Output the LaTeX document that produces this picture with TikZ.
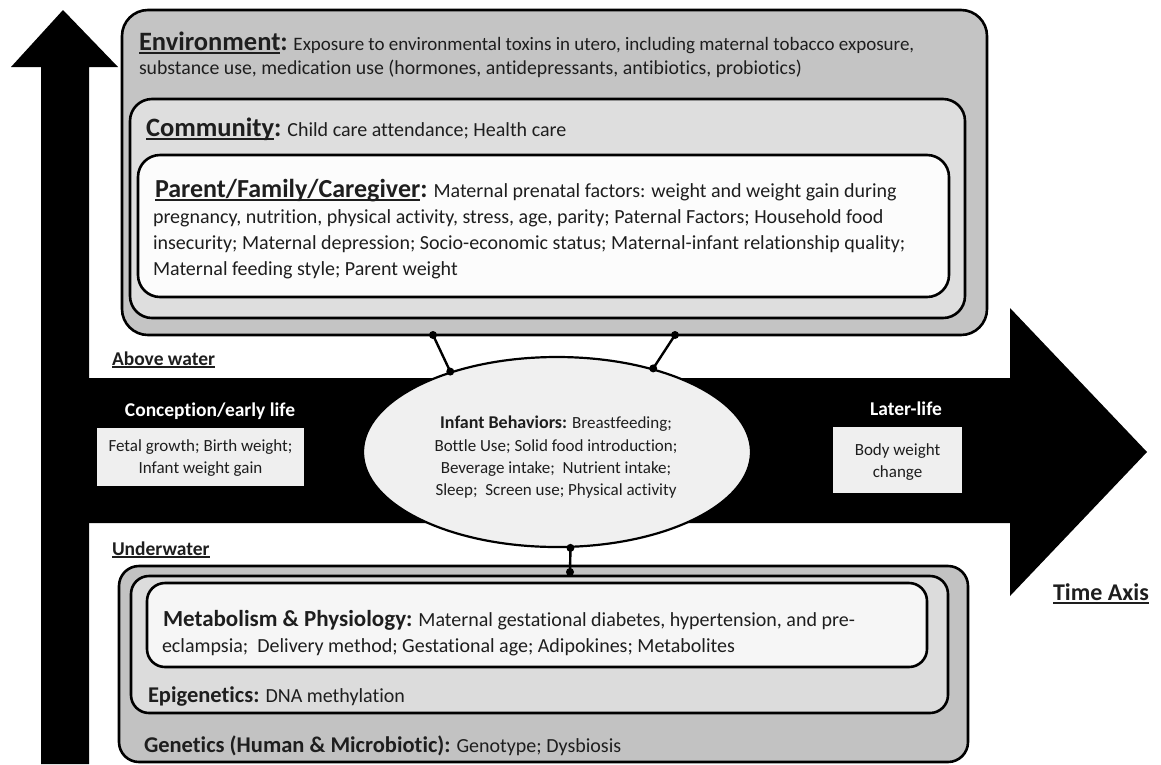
\documentclass[tikz,border=0pt]{standalone}
\usepackage{fontspec}
\setmainfont{Carlito}[Ligatures=NoCommon]
\usetikzlibrary{shapes.geometric}
\definecolor{txtc}{HTML}{1E1E1E}
\definecolor{envfill}{HTML}{C4C4C4}
\definecolor{comfill}{HTML}{DEDEDE}
\definecolor{parfill}{HTML}{FCFCFC}
\definecolor{genfill}{HTML}{C2C2C2}
\definecolor{epifill}{HTML}{DCDCDC}
\definecolor{metfill}{HTML}{F6F6F6}
\definecolor{smallfill}{HTML}{EFEFEF}
\definecolor{ellfill}{HTML}{F0F0F0}
\newcommand\myul[2][4]{\setbox0\hbox{#2}\rlap{\rule[-#1pt]{\wd0}{1.6pt}}\box0}
\newcommand\hbig{\fontsize{26.5}{30}\selectfont\bfseries}
\newcommand\hpar{\fontsize{26}{30}\selectfont\bfseries}
\newcommand\benv{\fontsize{19}{24}\selectfont}
\newcommand\benvb{\fontsize{19.8}{24}\selectfont}
\newcommand\bbig{\fontsize{20}{24}\selectfont}
\newcommand\hmed{\fontsize{23}{27}\selectfont\bfseries}
\newcommand\hmedb{\fontsize{22.5}{27}\selectfont\bfseries}
\newcommand\bmed{\fontsize{20}{24}\selectfont}
\newcommand\bsmall{\fontsize{17}{20}\selectfont}
\newcommand\hlab{\fontsize{19.5}{22}\selectfont\bfseries}
\begin{document}
\begin{tikzpicture}[x=1pt,y=-1pt,
  txt/.style={anchor=base west, inner sep=0pt, outer sep=0pt, text=txtc},
  ctxt/.style={anchor=base, inner sep=0pt, outer sep=0pt, text=txtc},
  layer/.style={draw=black, line width=2.6pt, anchor=north west, inner sep=0pt, outer sep=0pt},
  smallbox/.style={fill=smallfill, anchor=north west, inner sep=0pt, outer sep=0pt},
  conn/.style={line width=2.4pt, black},
  dot/.style={fill=black}]
\useasboundingbox (0,0) rectangle (1161,764);
\fill[white] (0,0) rectangle (1161,764);
% axes
\fill[black] (41,764) -- (41,67) -- (11,67) -- (63,10) -- (118,67) -- (89,67) -- (89,764) -- cycle;
\fill[black] (41,378) -- (1010,378) -- (1010,308) -- (1147,452) -- (1010,596) -- (1010,523) -- (41,523) -- cycle;
% above water layers
\node[layer, fill=envfill, rounded corners=26pt, minimum width=865pt, minimum height=325pt] (env) at (122,10) {};
\node[layer, fill=comfill, rounded corners=22pt, minimum width=835pt, minimum height=219pt] (com) at (130,99) {};
\node[layer, fill=parfill, rounded corners=22pt, minimum width=811pt, minimum height=142pt] (par) at (138,155) {};
% underwater layers
\node[layer, fill=genfill, rounded corners=20pt, minimum width=849pt, minimum height=196pt] (gen) at (119,566) {};
\node[layer, fill=epifill, rounded corners=18pt, minimum width=817pt, minimum height=137pt] (epi) at (131,576) {};
\node[layer, fill=metfill, rounded corners=18pt, minimum width=780pt, minimum height=84pt] (met) at (147,583) {};
% small boxes
\node[smallbox, minimum width=207pt, minimum height=58pt] (fetal) at (97,428) {};
\node[smallbox, minimum width=129pt, minimum height=66pt] (later) at (833,427) {};
% ellipse
\node[ellipse, draw=black, line width=2.2pt, fill=ellfill, minimum width=388pt, minimum height=190pt, inner sep=0pt] (ib) at (557,452) {};
% connectors
\coordinate (e1) at ([xshift=311pt]env.south west);
\coordinate (e2) at ([xshift=553pt]env.south west);
\coordinate (g1) at ([xshift=451pt,yshift=-6pt]gen.north west);
\draw[conn] (e1) -- (ib.143);
\draw[conn] (e2) -- (ib.41);
\draw[conn] (ib.-82) -- (g1);
\foreach \p in {e1,e2,g1,ib.143,ib.41,ib.-82} \fill[dot] (\p) circle (4pt);
% top texts
\node[txt] (envL1) at (139,50) {{\hbig\myul{Environment}:}\benv{} Exposure to environmental toxins in utero, including maternal tobacco exposure,};
\node[txt] (envL2) at (139,74) {\benvb substance use, medication use (hormones, antidepressants, antibiotics, probiotics)};
\node[txt] (comL1) at (146,136) {{\hbig\myul{Community}:}\bbig{} Child care attendance; Health care};
\node[txt] (parL1) at (155,197) {{\hpar\myul{Parent/Family/Caregiver}:}\bbig{} Maternal prenatal factors: weight and weight gain during};
\node[txt] (parL2) at (153,223) {\bbig pregnancy, nutrition, physical activity, stress, age, parity; Paternal Factors; Household food};
\node[txt] (parL3) at (153,249) {\bbig insecurity; Maternal depression; Socio-economic status; Maternal-infant relationship quality;};
\node[txt] (parL4) at (153,275) {\bbig Maternal feeding style; Parent weight};
% side labels
\node[txt] (above) at (112,365) {\hlab\myul[3]{Above water}};
\node[txt] (under) at (112,555) {\hlab\myul[3]{Underwater}};
\node[ctxt, text=white] (concep) at (210,416) {\hlab Conception/early life};
\node[ctxt] (fetalL1) at (200.5,451) {\bsmall Fetal growth; Birth weight;};
\node[ctxt] (fetalL2) at (200.5,473) {\bsmall Infant weight gain};
\node[ctxt, text=white] (laterT) at (906,415) {\hlab Later-life};
\node[ctxt] (laterL1) at (897.5,455) {\bsmall Body weight};
\node[ctxt] (laterL2) at (897.5,477) {\bsmall change};
\node[txt] (time) at (1053,600) {\fontsize{24}{28}\selectfont\bfseries\myul[4]{Time Axis}};
% ellipse text
\node[ctxt] (ibL1) at (556,428) {{\fontsize{18}{20}\selectfont\bfseries Infant Behaviors:}\bsmall{} Breastfeeding;};
\node[ctxt] (ibL2) at (556,451) {\bsmall Bottle Use; Solid food introduction;};
\node[ctxt] (ibL3) at (556,473) {\bsmall Beverage intake;\ \ Nutrient intake;};
\node[ctxt] (ibL4) at (556,495) {\bsmall Sleep;\ \ Screen use; Physical activity};
% bottom texts
\node[txt] (metL1) at (163,626) {{\hmed Metabolism \& Physiology:}\bmed{} Maternal gestational diabetes, hypertension, and pre-};
\node[txt] (metL2) at (162,652) {\bmed eclampsia;\ \ Delivery method; Gestational age; Adipokines; Metabolites};
\node[txt] (epiL1) at (148,702) {{\hmedb Epigenetics:}\bmed{} DNA methylation};
\node[txt] (genL1) at (144,752) {{\hmedb Genetics (Human \& Microbiotic):}\bmed{} Genotype; Dysbiosis};
\end{tikzpicture}
\end{document}
